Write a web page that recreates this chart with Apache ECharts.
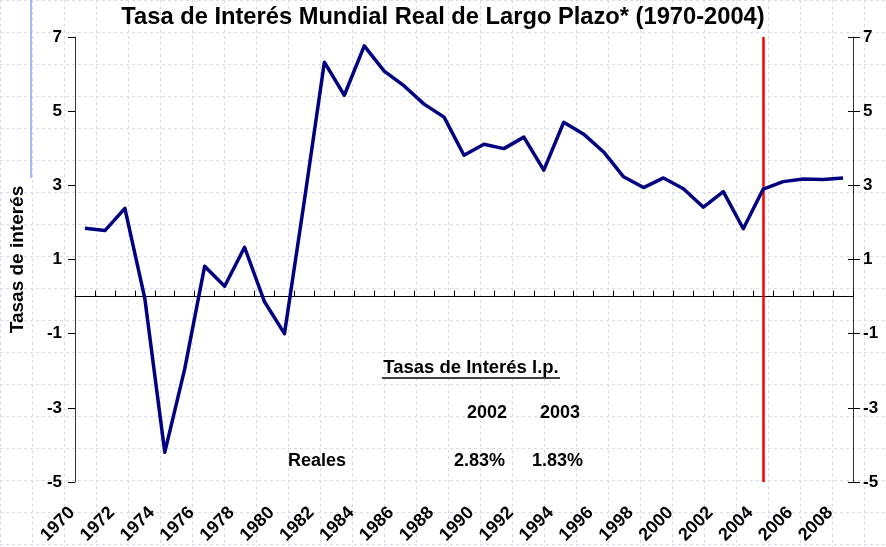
<!DOCTYPE html>
<html>
<head>
<meta charset="utf-8">
<script src="https://cdn.jsdelivr.net/npm/echarts@6/dist/echarts.min.js"></script>
<style>
html,body{margin:0;padding:0;background:#fff;}
#c{width:886px;height:547px;}
</style>
</head>
<body>
<div id="c"></div>
<script>
const years = ['1970','1971','1972','1973','1974','1975','1976','1977','1978','1979',
  '1980','1981','1982','1983','1984','1985','1986','1987','1988','1989',
  '1990','1991','1992','1993','1994','1995','1996','1997','1998','1999',
  '2000','2001','2002','2003','2004','2005','2006','2007','2008'];
const realRates = [1.84,1.78,2.38,-0.05,-4.2,-1.95,0.82,0.28,1.33,-0.14,
  -1.0,2.6,6.32,5.43,6.76,6.08,5.68,5.19,4.84,3.81,
  4.11,3.99,4.3,3.41,4.7,4.38,3.9,3.23,2.94,3.2,
  2.91,2.41,2.83,1.83,2.9,3.1,3.17,3.16,3.2];
const markerYear = '2004';
const titleText = 'Tasa de Interés Mundial Real de Largo Plazo* (1970-2004)';
const yAxisName = 'Tasas de interés';
const tableTitle = 'Tasas de Interés l.p.';
const tableYears = ['2002', '2003'];
const tableRowName = 'Reales';
const tableValues = ['2.83%', '1.83%'];

const FONT = '"Liberation Sans", Arial, sans-serif';
const chart = echarts.init(document.getElementById('c'), null, {renderer: 'canvas'});

const bgLine = {show: true, lineStyle: {color: '#d6daf3', width: 1, type: [3, 3]}};
const hidden = {axisLine: {show: false, onZero: false}, axisTick: {show: false}, axisLabel: {show: false}, splitLine: {show: false}};

chart.setOption({
  animation: false,
  backgroundColor: '#ffffff',
  title: {
    text: titleText,
    left: 'center',
    top: 0,
    textStyle: {fontFamily: FONT, fontWeight: 'bold', fontSize: 23.7, color: '#000'}
  },
  grid: [
    {left: 0, right: 0, top: 0, bottom: 0, containLabel: false, outerBoundsMode: 'none'},
    {left: 75, right: 33, top: 37, bottom: 65, containLabel: false, outerBoundsMode: 'none'},
    {left: 62, right: 46, top: 37, bottom: 65, containLabel: false, outerBoundsMode: 'none'}
  ],
  xAxis: [
    Object.assign({gridIndex: 0, type: 'value', min: -1, max: 885, interval: 32}, hidden, {splitLine: bgLine}),
    {gridIndex: 1, type: 'category', data: years, position: 'bottom', boundaryGap: true,
      axisLine: {show: true, onZero: true, onZeroAxisIndex: 1, lineStyle: {color: '#000', width: 1}},
      axisTick: {show: true, inside: true, length: 6, interval: 0, lineStyle: {color: '#000', width: 1}},
      axisLabel: {show: false}, splitLine: {show: false}},
    Object.assign({gridIndex: 2, type: 'category', data: years, position: 'bottom', boundaryGap: true}, hidden, {
      axisLabel: {show: true, interval: 1, rotate: 45, margin: 28, fontFamily: FONT, fontWeight: 'bold', fontSize: 18, color: '#000'}})
  ],
  yAxis: [
    Object.assign({gridIndex: 0, type: 'value', inverse: true, min: -20, max: 527, interval: 32}, hidden, {splitLine: bgLine}),
    {gridIndex: 1, type: 'value', position: 'left', min: -5, max: 7, interval: 2,
      name: yAxisName, nameLocation: 'middle', nameGap: 48,
      nameTextStyle: {fontFamily: FONT, fontWeight: 'bold', fontSize: 19, color: '#000'},
      axisLine: {show: true, onZero: false, lineStyle: {color: '#333', width: 1}},
      axisTick: {show: true, length: 7, lineStyle: {color: '#000'}},
      axisLabel: {margin: 13, fontFamily: FONT, fontWeight: 'bold', fontSize: 17, color: '#000'},
      splitLine: {show: false}},
    {gridIndex: 1, type: 'value', position: 'right', min: -5, max: 7, interval: 2,
      axisLine: {show: true, onZero: false, lineStyle: {color: '#333', width: 1}},
      axisTick: {show: true, length: 7, lineStyle: {color: '#000'}},
      axisLabel: {margin: 10, fontFamily: FONT, fontWeight: 'bold', fontSize: 17, color: '#000'},
      splitLine: {show: false}},
    {gridIndex: 1, type: 'value', position: 'right', min: -5, max: 7, interval: 2,
      axisLine: {show: false, onZero: false},
      axisTick: {show: true, inside: true, length: 5, lineStyle: {color: '#000'}},
      axisLabel: {show: false}, splitLine: {show: false}},
    Object.assign({gridIndex: 2, type: 'value', min: -5, max: 7, interval: 2}, hidden)
  ],
  series: [
    {type: 'line', xAxisIndex: 0, yAxisIndex: 0, data: [], silent: true},
    {
      type: 'line', name: 'Reales', xAxisIndex: 1, yAxisIndex: 1,
      data: realRates, showSymbol: false, symbol: 'none', z: 5,
      lineStyle: {color: '#000080', width: 3.5, join: 'round'},
      markLine: {
        silent: true, symbol: ['none', 'none'], label: {show: false},
        lineStyle: {color: '#ff0000', width: 2.5, type: 'solid'},
        data: [{xAxis: markerYear}]
      }
    }
  ],
  graphic: [
    {type: 'line', shape: {x1: 31, y1: 0, x2: 31, y2: 178}, style: {stroke: '#8fa3f2', lineWidth: 1.5}, z: 1},
    {type: 'text', x: 471, y: 368, z: 10, style: {text: tableTitle, font: 'bold 18.5px ' + FONT, fill: '#000', textAlign: 'center', textVerticalAlign: 'middle'}},
    {type: 'line', shape: {x1: 382, y1: 378, x2: 560, y2: 378}, style: {stroke: '#000', lineWidth: 1.5}, z: 10},
    {type: 'text', x: 507, y: 413, z: 10, style: {text: tableYears[0], font: 'bold 18px ' + FONT, fill: '#000', textAlign: 'right', textVerticalAlign: 'middle'}},
    {type: 'text', x: 580, y: 413, z: 10, style: {text: tableYears[1], font: 'bold 18px ' + FONT, fill: '#000', textAlign: 'right', textVerticalAlign: 'middle'}},
    {type: 'text', x: 288, y: 461, z: 10, style: {text: tableRowName, font: 'bold 18px ' + FONT, fill: '#000', textAlign: 'left', textVerticalAlign: 'middle'}},
    {type: 'text', x: 505, y: 461, z: 10, style: {text: tableValues[0], font: 'bold 18px ' + FONT, fill: '#000', textAlign: 'right', textVerticalAlign: 'middle'}},
    {type: 'text', x: 583, y: 461, z: 10, style: {text: tableValues[1], font: 'bold 18px ' + FONT, fill: '#000', textAlign: 'right', textVerticalAlign: 'middle'}}
  ]
});
</script>
</body>
</html>
